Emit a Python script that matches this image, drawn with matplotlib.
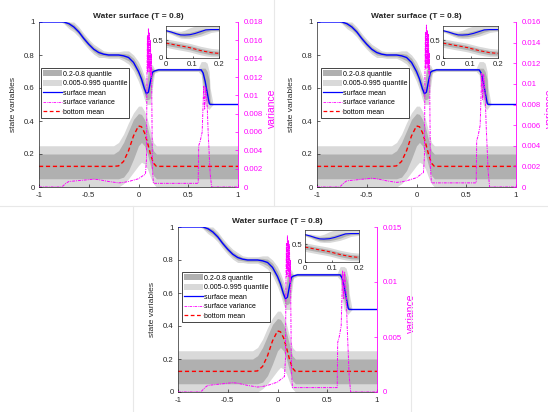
import matplotlib
matplotlib.use("Agg")
import matplotlib.pyplot as plt
from matplotlib.patches import Patch
from matplotlib.lines import Line2D
from matplotlib.ticker import FormatStrFormatter

plt.rcParams['font.family'] = ['Liberation Sans', 'DejaVu Sans']
plt.rcParams['font.size'] = 5.6

# surface (water level) mean and quantile bands
sx = [-1, -0.78, -0.75, -0.7, -0.65, -0.6, -0.55, -0.5, -0.45, -0.4, -0.35, -0.3,
      -0.25, -0.2, -0.15, -0.1, -0.05, 0, 0.03, 0.06, 0.08, 0.1, 0.12, 0.14, 0.16,
      0.2, 0.4, 0.6, 0.63, 0.65, 0.67, 0.69, 0.71, 0.72, 0.75, 1]
s_mean = [1.0, 1.0, 1.0, 0.99, 0.97, 0.94, 0.90, 0.865, 0.835, 0.815, 0.805, 0.80,
          0.80, 0.80, 0.795, 0.785, 0.755, 0.70, 0.655, 0.595, 0.565, 0.575, 0.64,
          0.695, 0.703, 0.71, 0.71, 0.71, 0.71, 0.69, 0.64, 0.575, 0.51, 0.50, 0.50, 0.50]
s_q20 = [1.0, 1.0, 0.995, 0.975, 0.955, 0.925, 0.885, 0.85, 0.82, 0.80, 0.795, 0.79,
         0.79, 0.79, 0.78, 0.765, 0.73, 0.67, 0.62, 0.56, 0.53, 0.53, 0.54,
         0.66, 0.698, 0.705, 0.705, 0.705, 0.70, 0.62, 0.55, 0.51, 0.50, 0.50, 0.50, 0.50]
s_q80 = [1.0, 1.0, 1.0, 1.0, 0.985, 0.955, 0.915, 0.88, 0.85, 0.83, 0.815, 0.81,
         0.81, 0.81, 0.81, 0.805, 0.78, 0.73, 0.69, 0.63, 0.60, 0.71, 0.72,
         0.72, 0.708, 0.715, 0.715, 0.715, 0.72, 0.72, 0.72, 0.70, 0.65, 0.52, 0.50, 0.50]
s_q005 = [1.0, 1.0, 0.99, 0.96, 0.94, 0.91, 0.87, 0.835, 0.805, 0.785, 0.785, 0.78,
          0.78, 0.78, 0.765, 0.745, 0.705, 0.64, 0.59, 0.53, 0.50, 0.50, 0.50,
          0.60, 0.69, 0.70, 0.70, 0.70, 0.68, 0.56, 0.50, 0.48, 0.47, 0.48, 0.50, 0.50]
s_q995 = [1.0, 1.0, 1.0, 1.0, 1.0, 0.97, 0.93, 0.895, 0.865, 0.845, 0.825, 0.82,
          0.82, 0.82, 0.825, 0.825, 0.80, 0.76, 0.72, 0.67, 0.64, 0.74, 0.74,
          0.74, 0.715, 0.72, 0.72, 0.72, 0.76, 0.76, 0.76, 0.75, 0.70, 0.60, 0.50, 0.50]

# bottom (topography) mean and quantile bands
bx = [-1, -0.25, -0.2, -0.15, -0.1, -0.05, 0, 0.03, 0.06, 0.09, 0.12, 0.15, 0.18, 0.22, 1]
b_mean = [0.125, 0.125, 0.128, 0.155, 0.22, 0.31, 0.37, 0.365, 0.33, 0.27, 0.2, 0.145, 0.125, 0.125, 0.125]
b_q20 = [0.05, 0.05, 0.05, 0.06, 0.1, 0.17, 0.25, 0.27, 0.25, 0.2, 0.13, 0.07, 0.05, 0.05, 0.05]
b_q80 = [0.2, 0.2, 0.22, 0.27, 0.34, 0.41, 0.445, 0.44, 0.41, 0.36, 0.29, 0.22, 0.2, 0.2, 0.2]
b_q005 = [0.0, 0.0, 0.0, 0.02, 0.05, 0.09, 0.13, 0.15, 0.14, 0.11, 0.06, 0.02, 0.0, 0.0, 0.0]
b_q995 = [0.25, 0.25, 0.27, 0.32, 0.39, 0.45, 0.49, 0.49, 0.46, 0.41, 0.34, 0.27, 0.25, 0.25, 0.25]

# surface variance: shared left/right parts, spike differs per panel
vx_left = [-1, -0.78, -0.76, -0.73, -0.7, -0.65, -0.6, -0.5, -0.45, -0.4, -0.35,
           -0.3, -0.2, -0.15, -0.1, -0.05, 0, 0.04, 0.07]
v_left = [0, 0, 0.0001, 0.0004, 0.0006, 0.00065, 0.0007, 0.0008, 0.00085, 0.0008,
          0.0007, 0.0006, 0.00045, 0.0005, 0.0006, 0.00075, 0.0009, 0.0012, 0.0014]
vx_spike = [0.08, 0.085, 0.09, 0.095, 0.1, 0.105, 0.11, 0.115, 0.12, 0.125, 0.13, 0.135, 0.14]
v_spike = [
    [0.003, 0.012, 0.0165, 0.0125, 0.0173, 0.013, 0.0168, 0.0125, 0.016, 0.012, 0.0145, 0.008, 0.002],
    [0.003, 0.011, 0.015, 0.0115, 0.0157, 0.012, 0.0152, 0.0115, 0.0148, 0.011, 0.013, 0.007, 0.002],
    [0.003, 0.010, 0.0135, 0.0105, 0.0142, 0.011, 0.0138, 0.0105, 0.0134, 0.010, 0.012, 0.0065, 0.002],
]
vx_right = [0.15, 0.2, 0.4, 0.6, 0.605, 0.62, 0.64, 0.655, 0.665, 0.675, 0.69, 0.7, 0.72, 0.735, 1]
v_right = [0.0004, 0.0004, 0.0004, 0.0004, 0.0045, 0.005, 0.006, 0.011, 0.0085, 0.0109, 0.009, 0.006, 0.0015, 0, 0]

var_top = [0.018, 0.016, 0.015]
var_ticks = [[0, 0.002, 0.004, 0.006, 0.008, 0.01, 0.012, 0.014, 0.016, 0.018],
             [0, 0.002, 0.004, 0.006, 0.008, 0.01, 0.012, 0.014, 0.016],
             [0, 0.005, 0.01, 0.015]]

# inset values
ix = [0, 0.02, 0.04, 0.055, 0.07, 0.09, 0.11, 0.13, 0.15, 0.17, 0.2]
i_surf = [0.77, 0.73, 0.68, 0.65, 0.645, 0.655, 0.69, 0.74, 0.79, 0.80, 0.80]
i_s_lo1 = [0.75, 0.70, 0.64, 0.60, 0.59, 0.60, 0.63, 0.67, 0.73, 0.77, 0.78]
i_s_hi1 = [0.79, 0.76, 0.72, 0.70, 0.71, 0.72, 0.76, 0.80, 0.83, 0.82, 0.82]
i_s_lo2 = [0.73, 0.67, 0.60, 0.56, 0.55, 0.55, 0.58, 0.61, 0.66, 0.72, 0.75]
i_s_hi2 = [0.80, 0.79, 0.76, 0.75, 0.78, 0.85, 0.9, 0.9, 0.9, 0.9, 0.9]
i_bot = [0.42, 0.39, 0.36, 0.34, 0.32, 0.29, 0.25, 0.21, 0.18, 0.15, 0.13]
i_b_lo1 = [0.36, 0.33, 0.30, 0.28, 0.26, 0.23, 0.19, 0.15, 0.12, 0.09, 0.08]
i_b_hi1 = [0.48, 0.45, 0.42, 0.40, 0.38, 0.35, 0.31, 0.27, 0.24, 0.21, 0.19]
i_b_lo2 = [0.30, 0.27, 0.24, 0.22, 0.20, 0.17, 0.13, 0.09, 0.06, 0.04, 0.03]
i_b_hi2 = [0.54, 0.51, 0.48, 0.46, 0.44, 0.41, 0.37, 0.33, 0.30, 0.27, 0.25]

DARK = '#b0b0b0'
LIGHT = '#d9d9d9'
AX = '#262626'
MAG = '#ff00ff'

W, H = 548, 412
fig = plt.figure(figsize=(W / 100, H / 100), dpi=100)

# faint screenshot borders
for (x0, y0, x1, y1) in [(274, 0, 274, 206), (0, 206, 548, 206), (133, 206, 133, 412), (411, 206, 411, 412)]:
    fig.add_artist(Line2D([x0 / W, x1 / W], [1 - y0 / H, 1 - y1 / H], color='#e8e8e8', lw=0.8))


def px_rect(l, t, r, b):
    return [l / W, 1 - b / H, (r - l) / W, (b - t) / H]


def panel(k, rect, inset_rect, leg_xy):
    ax = fig.add_axes(px_rect(*rect))
    ax.fill_between(bx, b_q005, b_q995, color=LIGHT, lw=0)
    ax.fill_between(bx, b_q20, b_q80, color=DARK, lw=0)
    ax.fill_between(sx, s_q005, s_q995, color=LIGHT, lw=0)
    ax.fill_between(sx, s_q20, s_q80, color=DARK, lw=0)
    ax.plot(sx, s_mean, color='#0000ff', lw=1.0)
    ax.plot(bx, b_mean, color='#ff0000', lw=1.0, ls=(0, (3, 2)))
    ax.set_xlim(-1, 1)
    ax.set_ylim(0, 1)
    ax.set_xticks([-1, -0.5, 0, 0.5, 1])
    ax.set_yticks([0, 0.2, 0.4, 0.6, 0.8, 1])
    ax.xaxis.set_major_formatter(FormatStrFormatter('%g'))
    ax.yaxis.set_major_formatter(FormatStrFormatter('%g'))
    ax.tick_params(direction='in', length=2, width=0.5, colors=AX)
    ax.tick_params(axis='x', pad=3.5)
    ax.tick_params(axis='y', pad=3)
    for s in ['top', 'right']:
        ax.spines[s].set_visible(False)
    for s in ['left', 'bottom']:
        ax.spines[s].set_color(AX)
        ax.spines[s].set_linewidth(0.5)
    ax.set_ylabel('state variables', fontsize=6.1, color=AX)
    ax.yaxis.set_label_coords(-0.11, 0.5)
    ax.set_title('Water surface (T = 0.8)', fontsize=6, fontweight='bold', pad=3, color=AX)

    ax2 = ax.twinx()
    vx = vx_left + vx_spike + vx_right
    vv = v_left + v_spike[k] + v_right
    ax2.plot(vx, vv, color=MAG, lw=0.7, ls=(0, (3, 1, 1, 1)))
    ax2.set_ylim(0, var_top[k])
    ax2.set_yticks(var_ticks[k])
    ax2.yaxis.set_major_formatter(FormatStrFormatter('%g'))
    ax2.tick_params(direction='in', length=2, width=0.5, colors=MAG, pad=4)
    for s in ['top', 'left', 'bottom']:
        ax2.spines[s].set_visible(False)
    ax2.spines['right'].set_color(MAG)
    ax2.spines['right'].set_linewidth(0.6)
    ax2.set_ylabel('variance', fontsize=7.5, color=MAG, rotation=90)
    ax2.yaxis.set_label_coords(1.145, 0.48)

    handles = [Patch(facecolor=DARK, edgecolor='none'),
               Patch(facecolor=LIGHT, edgecolor='none'),
               Line2D([], [], color='#0000ff', lw=0.9),
               Line2D([], [], color=MAG, lw=0.6, ls=(0, (3, 1, 1, 1))),
               Line2D([], [], color='#ff0000', lw=0.9, ls=(0, (3, 2)))]
    labels = ['0.2-0.8 quantile', '0.005-0.995 quantile', 'surface mean',
              'surface variance', 'bottom mean']
    leg = ax2.legend(handles, labels, loc='upper left',
                     bbox_to_anchor=(leg_xy[0] / W, 1 - leg_xy[1] / H),
                     bbox_transform=fig.transFigure, fontsize=5.0, frameon=True,
                     fancybox=False, framealpha=1, edgecolor=AX, borderpad=0.3,
                     labelspacing=0.3, handlelength=2.7, handleheight=1.0,
                     handletextpad=0.15, borderaxespad=0)
    leg.get_frame().set_linewidth(0.6)

    ins = fig.add_axes(px_rect(*inset_rect), zorder=5)
    ins.fill_between(ix, i_b_lo2, i_b_hi2, color=LIGHT, lw=0)
    ins.fill_between(ix, i_b_lo1, i_b_hi1, color=DARK, lw=0)
    ins.fill_between(ix, i_s_lo2, i_s_hi2, color=LIGHT, lw=0)
    ins.fill_between(ix, i_s_lo1, i_s_hi1, color=DARK, lw=0)
    ins.plot(ix, i_surf, color='#0000ff', lw=0.8)
    ins.plot(ix, i_bot, color='#ff0000', lw=0.8, ls=(0, (3, 2)))
    ins.set_xlim(0, 0.2)
    ins.set_ylim(0, 0.9)
    ins.set_xticks([0, 0.1, 0.2])
    ins.set_yticks([0, 0.5])
    ins.xaxis.set_major_formatter(FormatStrFormatter('%g'))
    ins.yaxis.set_major_formatter(FormatStrFormatter('%g'))
    ins.tick_params(direction='in', length=1.5, width=0.5, colors=AX, pad=2)
    for s in ins.spines.values():
        s.set_color(AX)
        s.set_linewidth(0.5)


panel(0, (39, 22, 238, 187), (166, 26, 219, 58), (41, 68))
panel(1, (317, 22, 516, 187), (443, 26, 498, 58), (321, 68))
panel(2, (178, 227, 377, 392), (305, 230, 359, 262), (182, 272))

fig.savefig('out.png', dpi=100)
